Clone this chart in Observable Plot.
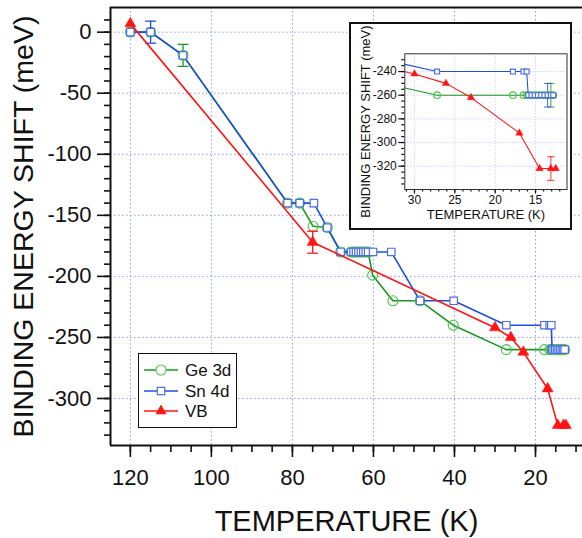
<!DOCTYPE html>
<html><head><meta charset="utf-8">
<script src="https://cdn.jsdelivr.net/npm/d3@7"></script>
<script src="https://cdn.jsdelivr.net/npm/@observablehq/plot@0.6"></script>
<style>
body{margin:0;background:#fff;}
#wrap{position:relative;width:582px;height:538px;overflow:hidden;font-family:"Liberation Sans",Arial,sans-serif;}
#main{position:absolute;left:0;top:0;}
#inset{position:absolute;left:349px;top:22px;width:223px;height:208px;box-sizing:border-box;border:2px solid #111;background:#fff;}
#legend{position:absolute;left:138px;top:353px;width:99px;height:75px;box-sizing:border-box;border:1.5px solid #111;background:#fff;}
svg{display:block;}
</style></head><body>
<div id="wrap"><div id="main"></div><div id="inset"></div><div id="legend"></div></div>
<script>
// ---------- data ----------
const seriesNames = ["Ge 3d", "Sn 4d", "VB"];
const geT = [120, 115, 107, 81.2, 78.2, 74.9, 71.4, 68.1, 65.5, 64.9, 64.3, 63.7, 63.1, 62.5, 61.9, 61.3, 60.2, 55.2, 48.5, 40.3, 27.2, 17.8, 16.5, 16.1, 15.9, 15.5, 15.1, 14.7, 14.3, 13.9, 13.5, 13.1, 12.8];
const geE = [0, 0, -19, -140, -140, -159, -160, -180, -180, -180, -180, -180, -180, -180, -180, -180, -199, -220, -220, -240, -260, -260, -260, -260, -260, -260, -260, -260, -260, -260, -260, -260, -260];
const snT = [120, 115, 107, 81.2, 78.2, 74.7, 71.4, 68.1, 65.5, 64.9, 64.3, 63.7, 63.1, 62.5, 61.9, 61.3, 60.1, 55.6, 48.5, 40.2, 27.2, 17.8, 16.5, 16.1, 15.9, 15.5, 15.1, 14.7, 14.3, 13.9, 13.5, 13.1, 12.8];
const snE = [0, 0, -19, -140, -140, -140, -160, -180, -180, -180, -180, -180, -180, -180, -180, -180, -180, -180, -220, -220, -240, -240, -240, -240, -260, -260, -260, -260, -260, -260, -260, -260, -260];
const vbT = [120, 75, 30.0, 26.1, 23.0, 17.0, 14.5, 13.1, 12.5];
const vbE = [7, -172, -242, -250, -262, -292, -322, -322, -322];
// error bars: series index, T, E, half-width, panel
const errSeries = [1, 0, 2, 1, 0, 2];
const errT = [115, 107, 75, 13.5, 13.1, 13.1];
const errE = [0, -19, -172, -260, -260, -322];
const errD = [9, 9, 9, 10, 10, 10];
const errPanel = ["main", "main", "main", "inset", "inset", "inset"];
// axes
const xDomain = [124.9, 8.4];
const yDomain = [-338.5, 20.2];
const xMajor = [120, 100, 80, 60, 40, 20];
const xMinor = d3.range(10, 125, 5);
const yMajor = [0, -50, -100, -150, -200, -250, -300];
const yMinor = d3.range(-330, 20, 10);
const inXDomain = [31.2, 11.1];
const inYDomain = [-339.7, -225];
const inXMajor = [30, 25, 20, 15];
const inXMinor = d3.range(12, 32, 1);
const inYMajor = [-240, -260, -280, -300, -320];
const inYMinor = d3.range(-335, -225, 5);
const xLabel = "TEMPERATURE (K)";
const yLabel = "BINDING ENERGY SHIFT (meV)";

// ---------- styles ----------
const FONT = "'Liberation Sans', Arial, sans-serif";
const GE_LINE = "#17991a", GE_MARK = "#4fc24f";
const SN_LINE = "#1f4fd8", SN_MARK = "#4a6fe6";
const VB_COL = "#ff1414";
const GRID = "#8f98ff";
const lineCols = [GE_LINE, SN_LINE, VB_COL];
const markCols = [GE_MARK, SN_MARK, VB_COL];

const ge = geT.map((t, i) => ({T: t, E: geE[i]}));
const sn = snT.map((t, i) => ({T: t, E: snE[i]}));
const vb = vbT.map((t, i) => ({T: t, E: vbE[i]}));
const errs = errT.map((t, i) => ({s: errSeries[i], T: t, E: errE[i], lo: errE[i] - errD[i], hi: errE[i] + errD[i], panel: errPanel[i]}));

const capSymbol = {draw(ctx, size) { const w = Math.sqrt(size / Math.PI); ctx.moveTo(-w, 0); ctx.lineTo(w, 0); }};

function seriesMarks(k) {
  const clip = k.clip;
  const s = k.scale;
  const ebs = errs.filter(d => d.panel === k.panel);
  const errMarks = (si) => {
    const d = ebs.filter(e => e.s === si);
    const c = lineCols[si];
    return [
      Plot.ruleX(d, {x: "T", y1: "lo", y2: "hi", stroke: c, strokeWidth: 1.3 * s, clip}),
      Plot.dot(d, {x: "T", y: "lo", symbol: capSymbol, r: 5.5 * s, stroke: c, strokeWidth: 1.3 * s, clip}),
      Plot.dot(d, {x: "T", y: "hi", symbol: capSymbol, r: 5.5 * s, stroke: c, strokeWidth: 1.3 * s, clip})
    ];
  };
  return [
    Plot.line(ge, {x: "T", y: "E", stroke: GE_LINE, strokeWidth: 1.6 * s, clip}),
    ...errMarks(0),
    Plot.dot(ge, {x: "T", y: "E", r: 5 * s, stroke: GE_MARK, strokeWidth: 1.1, fill: "none", clip}),
    Plot.line(sn, {x: "T", y: "E", stroke: SN_LINE, strokeWidth: 1.6 * s, clip}),
    ...errMarks(1),
    Plot.dot(sn, {x: "T", y: "E", symbol: "square", r: 4.2 * s, stroke: SN_MARK, strokeWidth: 1.2, fill: "white", clip}),
    Plot.line(vb, {x: "T", y: "E", stroke: VB_COL, strokeWidth: 1.6 * s, clip}),
    ...errMarks(2),
    Plot.dot(vb, {x: "T", y: "E", symbol: "triangle", r: 4.1 * s, fill: VB_COL, stroke: VB_COL, strokeWidth: 0.5, clip})
  ];
}

const main = Plot.plot({
  width: 582, height: 538,
  marginLeft: 110, marginRight: 0, marginTop: 7, marginBottom: 93,
  style: {fontFamily: FONT, background: "white", color: "#111"},
  x: {domain: xDomain, axis: null},
  y: {domain: yDomain, axis: null},
  marks: [
    Plot.gridX(xMajor, {stroke: GRID, strokeOpacity: 1, strokeDasharray: "1.5,2.5"}),
    Plot.gridY(yMajor, {stroke: GRID, strokeOpacity: 1, strokeDasharray: "1.5,2.5"}),
    Plot.axisX({ticks: xMajor, tickSize: 12, tickPadding: 12, fontSize: 22, strokeWidth: 1.6, tickFormat: d => String(d), label: null}),
    Plot.axisX({ticks: xMinor, tickSize: 7, strokeWidth: 1.6, tickFormat: () => "", label: null}),
    Plot.axisY({ticks: yMajor, tickSize: 13, tickPadding: 6, fontSize: 22, strokeWidth: 1.6, tickFormat: d => String(d), label: null}),
    Plot.axisY({ticks: yMinor, tickSize: 6, strokeWidth: 1.6, tickFormat: () => "", label: null}),
    ...seriesMarks({clip: false, scale: 1, panel: "main"}),
    Plot.ruleX([xDomain[0]], {stroke: "#111", strokeWidth: 2}),
    Plot.ruleY([yDomain[0]], {stroke: "#111", strokeWidth: 2}),
    Plot.ruleY([yDomain[1]], {stroke: "#111", strokeWidth: 2}),
    Plot.text([xLabel], {frameAnchor: "bottom", dy: 76, fontSize: 29, textAnchor: "middle", lineAnchor: "middle", fill: "#111"}),
    Plot.text([yLabel], {frameAnchor: "left", dx: -87, rotate: -90, fontSize: 28.5, textAnchor: "middle", lineAnchor: "middle", fill: "#111"})
  ]
});
document.getElementById("main").appendChild(main);

const inset = Plot.plot({
  width: 219, height: 204,
  marginLeft: 53.3, marginRight: 3.5, marginTop: 29.3, marginBottom: 39,
  style: {fontFamily: FONT, background: "white", color: "#111", overflow: "visible"},
  x: {domain: inXDomain, axis: null},
  y: {domain: inYDomain, axis: null},
  marks: [
    Plot.gridX(inXMajor, {stroke: GRID, strokeOpacity: 0.6, strokeDasharray: "1,2"}),
    Plot.gridY(inYMajor, {stroke: GRID, strokeOpacity: 0.6, strokeDasharray: "1,2"}),
    Plot.axisX({ticks: inXMajor, tickSize: 4.5, tickPadding: 1, fontSize: 12, strokeWidth: 1.2, tickFormat: d => String(d), label: null}),
    Plot.axisX({ticks: inXMinor, tickSize: 2.5, strokeWidth: 1.2, tickFormat: () => "", label: null}),
    Plot.axisY({ticks: inYMajor, tickSize: 6, tickPadding: 2, fontSize: 12, strokeWidth: 1.2, tickFormat: d => String(d), label: null}),
    Plot.axisY({ticks: inYMinor, tickSize: 3, strokeWidth: 1.2, tickFormat: () => "", label: null}),
    ...seriesMarks({clip: true, scale: 0.66, panel: "inset"}),
    Plot.frame({stroke: "#333", strokeWidth: 1}),
    Plot.text([xLabel], {frameAnchor: "bottom", dy: 25, fontSize: 13, textAnchor: "middle", lineAnchor: "middle", fill: "#111"}),
    Plot.text([yLabel], {frameAnchor: "left", dx: -39, rotate: -90, fontSize: 13, textAnchor: "middle", lineAnchor: "middle", fill: "#111"})
  ]
});
document.getElementById("inset").appendChild(inset);

// legend
const legY = [16, 37, 57];
const sym = [
  (y) => `<circle cx="22" cy="${y}" r="5" fill="white" stroke="${GE_MARK}" stroke-width="1.1"/>`,
  (y) => `<rect x="18.3" y="${y - 3.7}" width="7.4" height="7.4" fill="white" stroke="${SN_MARK}" stroke-width="1.2"/>`,
  (y) => `<path d="${d3.symbol(d3.symbolTriangle, Math.PI * 4.1 * 4.1)()}" transform="translate(22,${y})" fill="${VB_COL}"/>`
];
let lg = `<svg width="96" height="72" style="font-family:${FONT}">`;
seriesNames.forEach((n, i) => {
  lg += `<line x1="5" x2="39" y1="${legY[i]}" y2="${legY[i]}" stroke="${lineCols[i]}" stroke-width="1.6"/>`;
  lg += sym[i](legY[i]);
  lg += `<text x="46" y="${legY[i]}" dy="0.36em" font-size="17" fill="#111">${n}</text>`;
});
lg += `</svg>`;
document.getElementById("legend").innerHTML = lg;
</script>
</body></html>
